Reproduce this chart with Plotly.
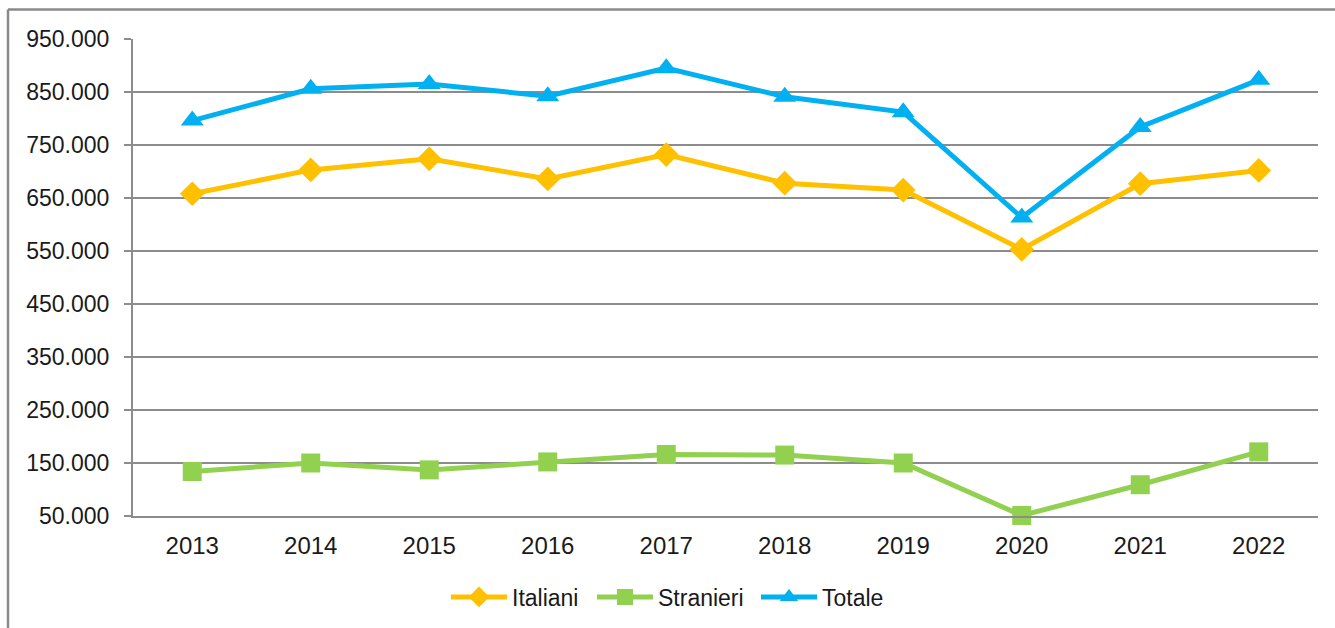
import plotly.graph_objects as go

years = ["2013", "2014", "2015", "2016", "2017", "2018", "2019", "2020", "2021", "2022"]
italiani = [658000, 703000, 724000, 686000, 732000, 678000, 665000, 553000, 677000, 702000]
stranieri = [134000, 150000, 137000, 152000, 166000, 165000, 150000, 51000, 109000, 171000]
totale = [796000, 856000, 865000, 842000, 895000, 841000, 812000, 613000, 784000, 873000]

y_tickvals = [50000, 150000, 250000, 350000, 450000, 550000, 650000, 750000, 850000, 950000]
y_ticktext = ["50.000", "150.000", "250.000", "350.000", "450.000",
              "550.000", "650.000", "750.000", "850.000", "950.000"]

FONT = "Liberation Sans, Arial, sans-serif"
GRID = "#8c8c8c"

L, R, T, B = 133, 17, 39, 111.5
W, H = 1335, 628
pw, ph = W - L - R, H - T - B

def px_x(px):
    return (px - L) / pw

def px_y(py):
    return (H - B - py) / ph

fig = go.Figure()
series = [
    ("Italiani", italiani, "#FFC000", "diamond", 19, "legend", 456),
    ("Stranieri", stranieri, "#92D050", "square", 19, "legend2", 602),
    ("Totale", totale, "#00B0F0", "triangle-up", 20, "legend3", 766),
]
legends = {}
for name, vals, col, sym, size, lg, lx in series:
    fig.add_trace(go.Scatter(
        x=years, y=vals, name=name, mode="lines+markers",
        line=dict(color=col, width=5),
        marker=dict(symbol=sym, size=size, color=col, line=dict(width=0)),
        legend=lg, cliponaxis=False,
    ))
    legends[lg] = dict(orientation="h", xref="container", yref="container",
                       x=(lx - 10) / W, xanchor="left",
                       y=1 - 597 / H, yanchor="middle",
                       font=dict(size=23, family=FONT, color="#1a1a1a"),
                       itemwidth=56, bgcolor="rgba(0,0,0,0)")

# outer frame (cropped chart border)
fig.add_shape(type="line", xref="paper", yref="paper",
              x0=px_x(8), x1=px_x(1340), y0=px_y(9.5), y1=px_y(9.5),
              line=dict(color="#8a8a8a", width=2.5))
fig.add_shape(type="line", xref="paper", yref="paper",
              x0=px_x(8), x1=px_x(8), y0=px_y(9.5), y1=px_y(640),
              line=dict(color="#8a8a8a", width=2.5))

fig.update_layout(
    width=W, height=H,
    margin=dict(l=L, r=R, t=T, b=B),
    paper_bgcolor="white", plot_bgcolor="white",
    font=dict(family=FONT, size=23, color="#1a1a1a"),
    showlegend=True,
    xaxis=dict(type="category", range=[-0.5, 9.5], showgrid=False,
               showline=True, linecolor=GRID, linewidth=2,
               ticks="", ticklabelstandoff=7, tickfont=dict(size=24),
               zeroline=False, fixedrange=True),
    yaxis=dict(range=[50000, 950000], tickvals=y_tickvals, ticktext=y_ticktext,
               showgrid=True, gridcolor=GRID, gridwidth=2,
               showline=True, linecolor=GRID, linewidth=2,
               ticks="outside", ticklen=7, tickwidth=2, tickcolor=GRID,
               ticklabelstandoff=10, tickfont=dict(size=23),
               zeroline=False, fixedrange=True),
    **legends,
)

fig.write_html("out.html", config={"displayModeBar": False},
               post_script="document.body.style.margin='0px';document.body.style.overflow='hidden';")
